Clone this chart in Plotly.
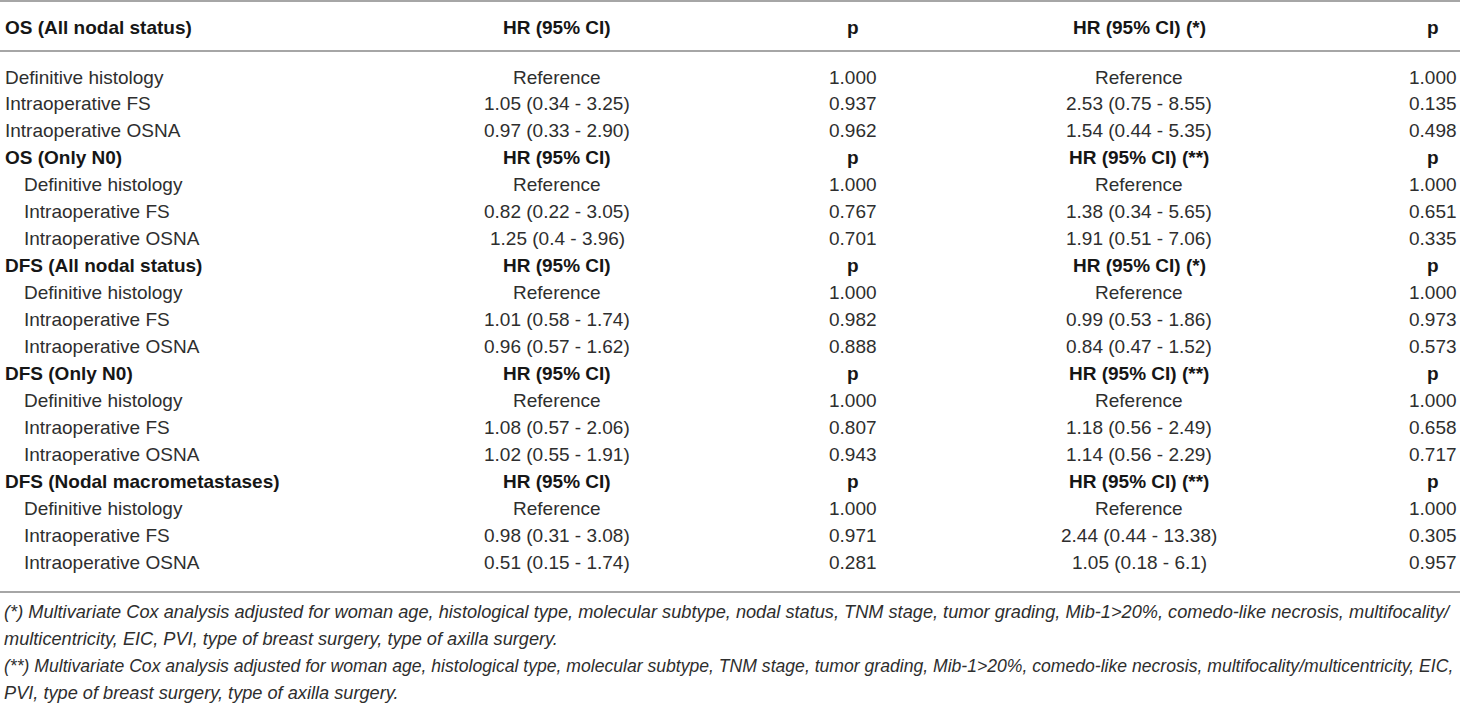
import plotly.graph_objects as go

W, H = 1460, 703

# Table content
group_titles = ["OS (All nodal status)", "OS (Only N0)", "DFS (All nodal status)",
                "DFS (Only N0)", "DFS (Nodal macrometastases)"]
hr_headers = ["HR (95% CI)"] * 5
p_headers = ["p"] * 5
adj_headers = ["HR (95% CI) (*)", "HR (95% CI) (**)", "HR (95% CI) (*)",
               "HR (95% CI) (**)", "HR (95% CI) (**)"]
methods = ["Definitive histology", "Intraoperative FS", "Intraoperative OSNA"]

hr_crude = [
    ["Reference", "1.05 (0.34 - 3.25)", "0.97 (0.33 - 2.90)"],
    ["Reference", "0.82 (0.22 - 3.05)", "1.25 (0.4 - 3.96)"],
    ["Reference", "1.01 (0.58 - 1.74)", "0.96 (0.57 - 1.62)"],
    ["Reference", "1.08 (0.57 - 2.06)", "1.02 (0.55 - 1.91)"],
    ["Reference", "0.98 (0.31 - 3.08)", "0.51 (0.15 - 1.74)"],
]
p_crude = [
    ["1.000", "0.937", "0.962"],
    ["1.000", "0.767", "0.701"],
    ["1.000", "0.982", "0.888"],
    ["1.000", "0.807", "0.943"],
    ["1.000", "0.971", "0.281"],
]
hr_adj = [
    ["Reference", "2.53 (0.75 - 8.55)", "1.54 (0.44 - 5.35)"],
    ["Reference", "1.38 (0.34 - 5.65)", "1.91 (0.51 - 7.06)"],
    ["Reference", "0.99 (0.53 - 1.86)", "0.84 (0.47 - 1.52)"],
    ["Reference", "1.18 (0.56 - 2.49)", "1.14 (0.56 - 2.29)"],
    ["Reference", "2.44 (0.44 - 13.38)", "1.05 (0.18 - 6.1)"],
]
p_adj = [
    ["1.000", "0.135", "0.498"],
    ["1.000", "0.651", "0.335"],
    ["1.000", "0.973", "0.573"],
    ["1.000", "0.658", "0.717"],
    ["1.000", "0.305", "0.957"],
]

footnotes = [
    "(*) Multivariate Cox analysis adjusted for woman age, histological type, molecular subtype, "
    "nodal status, TNM stage, tumor grading, Mib-1>20%, comedo-like necrosis, multifocality/",
    "multicentricity, EIC, PVI, type of breast surgery, type of axilla surgery.",
    "(**) Multivariate Cox analysis adjusted for woman age, histological type, molecular subtype, "
    "TNM stage, tumor grading, Mib-1>20%, comedo-like necrosis, multifocality/multicentricity, EIC,",
    "PVI, type of breast surgery, type of axilla surgery.",
]
# font sizes of the footnote lines (the originals are justified to full width)
foot_sizes = [18.2, 18.2, 17.6, 18.2]

# layout (pixels)
FONT = "Liberation Sans"
COLOR = "#2e2e2e"
SIZE = 19
col_x = [3, 557, 853, 1139, 1433]
header_y = 27
body_y0 = 77
row_h = 26.95
rule_color = "#a6a6a6"

fig = go.Figure()
annos = []


def cell(x, y, text, anchor="center", bold=False, indent=0):
    t = f"<b>{text}</b>" if bold else text
    annos.append(dict(x=x + indent, y=y, text=t, xref="x", yref="y", showarrow=False,
                      xanchor=anchor, yanchor="middle",
                      font=dict(family=FONT, size=SIZE, color="#161616" if bold else COLOR)))


row = 0
for g, title in enumerate(group_titles):
    heads = [title, hr_headers[g], p_headers[g], adj_headers[g], p_headers[g]]
    if g == 0:
        y = header_y
    else:
        y = body_y0 + row * row_h
        row += 1
    for c, h in enumerate(heads):
        cell(col_x[c], y, h, anchor="left" if c == 0 else "center", bold=True)
    ind = 0 if g == 0 else 19
    for i, m in enumerate(methods):
        y = body_y0 + row * row_h
        vals = [m, hr_crude[g][i], p_crude[g][i], hr_adj[g][i], p_adj[g][i]]
        for c, v in enumerate(vals):
            cell(col_x[c], y, v, anchor="left" if c == 0 else "center", indent=ind if c == 0 else 0)
        row += 1

table_bottom = body_y0 + (row - 1) * row_h + 30

for k, line in enumerate(footnotes):
    annos.append(dict(x=2, y=table_bottom + 20 + k * 27.0, text=f"<i>{line}</i>",
                      xref="x", yref="y", showarrow=False, xanchor="left", yanchor="middle",
                      font=dict(family=FONT, size=foot_sizes[k], color=COLOR)))

for yy in [1, 51, table_bottom]:
    fig.add_shape(type="line", x0=0, x1=W, y0=yy, y1=yy, xref="x", yref="y",
                  line=dict(color=rule_color, width=2))

fig.update_layout(
    width=W, height=H,
    margin=dict(l=0, r=0, t=0, b=0),
    paper_bgcolor="white", plot_bgcolor="white",
    annotations=annos,
    xaxis=dict(range=[0, W], visible=False, fixedrange=True),
    yaxis=dict(range=[H, 0], visible=False, fixedrange=True),
    showlegend=False,
)

# no page margin so the figure sits at the window's top-left corner
fig.write_html("out.html", config={"displayModeBar": False},
               post_script="document.body.style.margin='0';document.body.style.overflow='hidden';")
